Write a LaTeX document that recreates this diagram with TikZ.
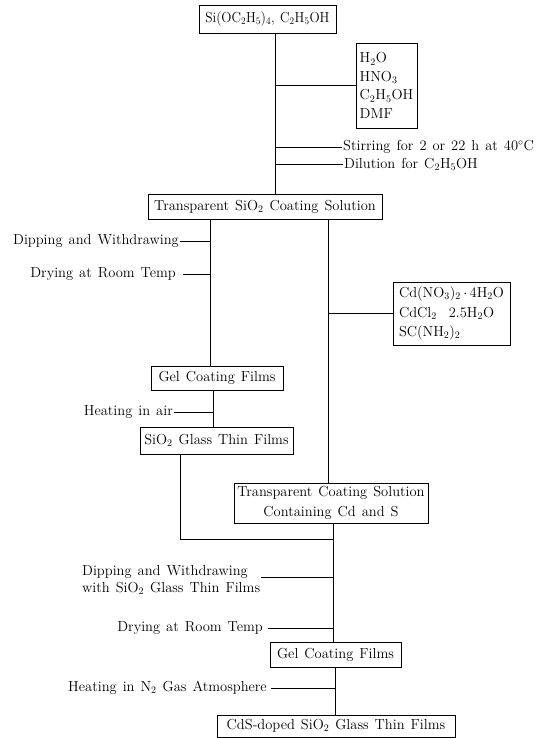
\documentclass[tikz,border=0pt]{standalone}
\usepackage{fontspec}
\newcommand\diagfont[1]{\fontsize{14.5}{#1}\selectfont\spaceskip=6pt plus 1pt minus 1pt\relax}
\begin{document}
\begin{tikzpicture}[x=1pt,y=-1pt,
  every node/.style={font=\diagfont{17}},
  box/.style={draw,line width=0.9pt,inner sep=0pt,align=center},
  lbl/.style={inner sep=1pt},
  ln/.style={line width=0.9pt}]
\useasboundingbox (0,0) rectangle (547,738);
% coordinates of vertical trunks
\coordinate (xa) at (275,0);
\coordinate (xb) at (210,0);
\coordinate (xc) at (213,0);
\coordinate (xd) at (328,0);
\coordinate (xe) at (180,0);
\coordinate (xf) at (333,0);
\coordinate (xg) at (335,0);
\coordinate (ym) at (0,539);
% boxes
\node[box,minimum width=137pt,minimum height=28pt] (src) at (267.5,19) {\scalebox{0.92}[1]{Si(OC$_2$H$_5$)$_4$, C$_2$H$_5$OH}};
\node[box,minimum width=61pt,minimum height=85pt,align=left,font=\diagfont{18.5}] (add1) at (386.5,85.5) {H$_2$O\\HNO$_3$\\C$_2$H$_5$OH\\DMF};
\node[box,minimum width=234pt,minimum height=25pt] (sol) at (265,206.5) {Transparent SiO$_2$ Coating Solution};
\node[box,minimum width=132pt,minimum height=24pt] (gel1) at (217,378) {Gel Coating Films};
\node[box,minimum width=153pt,minimum height=27pt] (sio2) at (216.5,440.5) {SiO$_2$ Glass Thin Films};
\node[box,minimum width=117pt,minimum height=63pt,align=left,font=\diagfont{19.5}] (cd) at (451.5,313.5) {Cd(NO$_3$)$_2$\,$\cdot$\,4H$_2$O\\CdCl$_2$~~2.5H$_2$O\\SC(NH$_2$)$_2$};
\node[box,minimum width=194pt,minimum height=40pt,font=\diagfont{20}] (tcs) at (331,503) {Transparent Coating Solution\\Containing Cd and S};
\node[box,minimum width=131pt,minimum height=25pt] (gel2) at (335.5,654.5) {Gel Coating Films};
\node[box,minimum width=238pt,minimum height=22pt] (cds) at (336,726) {CdS-doped SiO$_2$ Glass Thin Films};
% labels
\node[lbl,anchor=west] (stir) at (342,147) {Stirring for 2 or 22 h at 40$^\circ$C};
\node[lbl,anchor=west] (dil) at (343,164) {Dilution for C$_2$H$_5$OH};
\node[lbl,anchor=east] (dip1) at (180,241) {Dipping and Withdrawing};
\node[lbl,anchor=east] (dry1) at (177,274) {Drying at Room Temp};
\node[lbl,anchor=east] (heat1) at (174,412) {Heating in air};
\node[lbl,anchor=west,align=left,font=\diagfont{16.5}] (dip2) at (81,580) {Dipping and Withdrawing\\with SiO$_2$ Glass Thin Films};
\node[lbl,anchor=east] (dry2) at (264,628) {Drying at Room Temp};
\node[lbl,anchor=east] (heat2) at (268,688) {Heating in N$_2$ Gas Atmosphere};
% connectors: first stage
\draw[ln] (src.south -| xa) -- (sol.north -| xa);
\draw[ln] (xa |- add1.west) -- (add1.west);
\draw[ln] (xa |- stir.west) -- (stir.west);
\draw[ln] (xa |- dil.west) -- (dil.west);
% left branch
\draw[ln] (sol.south -| xb) -- (gel1.north -| xb);
\draw[ln] (dip1.east) -- (dip1.east -| xb);
\draw[ln] ([xshift=6pt]dry1.east) -- (dry1.east -| xb);
\draw[ln] (gel1.south -| xc) -- (sio2.north -| xc);
\draw[ln] (heat1.east) -- (heat1.east -| xc);
% right branch
\draw[ln] (sol.south -| xd) -- (tcs.north -| xd);
\draw[ln] (xd |- cd.west) -- (cd.west);
% merge
\draw[ln] (sio2.south -| xe) -- (xe |- ym) -- (xf |- ym);
\draw[ln] (tcs.south -| xf) -- (gel2.north -| xf);
\draw[ln] ([yshift=3pt]dip2.east) -- ([yshift=3pt]dip2.east -| xf);
\draw[ln] ([xshift=4pt]dry2.east) -- (dry2.east -| xf);
\draw[ln] (gel2.south -| xg) -- (cds.north -| xg);
\draw[ln] ([xshift=3pt]heat2.east) -- (heat2.east -| xg);
\end{tikzpicture}
\end{document}
